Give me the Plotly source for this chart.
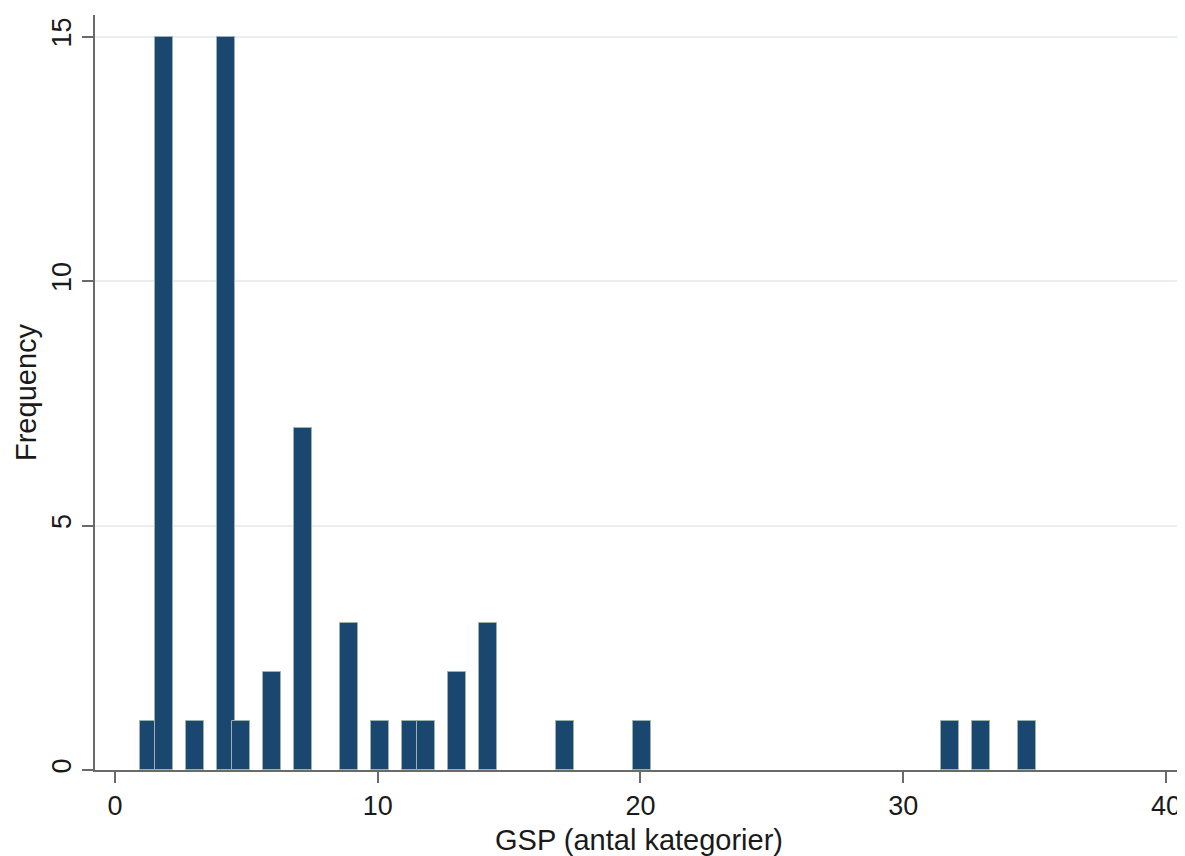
import plotly.graph_objects as go

# Histogram bins (midpoints of GSP bins) and their frequencies
gsp_bin_mid = [1.29, 1.88, 3.05, 4.22, 4.81, 5.98, 7.16, 8.91, 10.09,
               11.26, 11.84, 13.02, 14.19, 17.12, 20.05, 31.78, 32.95, 34.71]
frequency = [1, 15, 1, 15, 1, 2, 7, 3, 1, 1, 1, 2, 3, 1, 1, 1, 1, 1]

x_ticks = [0, 10, 20, 30, 40]
y_ticks = [0, 5, 10, 15]
x_title = "GSP (antal kategorier)"
y_title = "Frequency"

FONT = "Liberation Sans, Arial, Helvetica, sans-serif"
BAR_FILL = "#1a476f"
BAR_EDGE = "#9fb2aa"
AXIS_COL = "#6a6a6a"

fig = go.Figure()
fig.add_trace(go.Bar(
    x=gsp_bin_mid,
    y=frequency,
    width=0.68,
    marker=dict(color=BAR_FILL, line=dict(color=BAR_EDGE, width=1)),
    showlegend=False,
    hoverinfo="x+y",
))

fig.update_layout(
    width=1177,
    height=848,
    autosize=False,
    margin=dict(l=87, r=2, t=7, b=86),
    paper_bgcolor="white",
    plot_bgcolor="white",
    font=dict(family=FONT, size=27, color="#1a1a1a"),
    bargap=0,
)

fig.update_xaxes(
    range=[-0.76, 40.65],
    tickvals=x_ticks,
    ticktext=[str(v) for v in x_ticks],
    ticks="outside",
    ticklen=11,
    tickwidth=1.5,
    tickcolor=AXIS_COL,
    showline=True,
    linecolor=AXIS_COL,
    linewidth=2,
    showgrid=False,
    zeroline=False,
    tickfont=dict(size=27),
    title=dict(text=x_title, font=dict(size=29), standoff=12),
)

fig.update_yaxes(
    range=[0, 15.44],
    tickvals=y_ticks,
    ticktext=[str(v) for v in y_ticks],
    tickangle=-90,
    ticks="outside",
    ticklen=11,
    tickwidth=1.5,
    tickcolor=AXIS_COL,
    showline=True,
    linecolor=AXIS_COL,
    linewidth=2,
    showgrid=True,
    gridcolor="#e9eff0",
    gridwidth=1.5,
    zeroline=False,
    tickfont=dict(size=27),
    title=dict(text=y_title, font=dict(size=29), standoff=2),
)

fig.write_html("out.html")
